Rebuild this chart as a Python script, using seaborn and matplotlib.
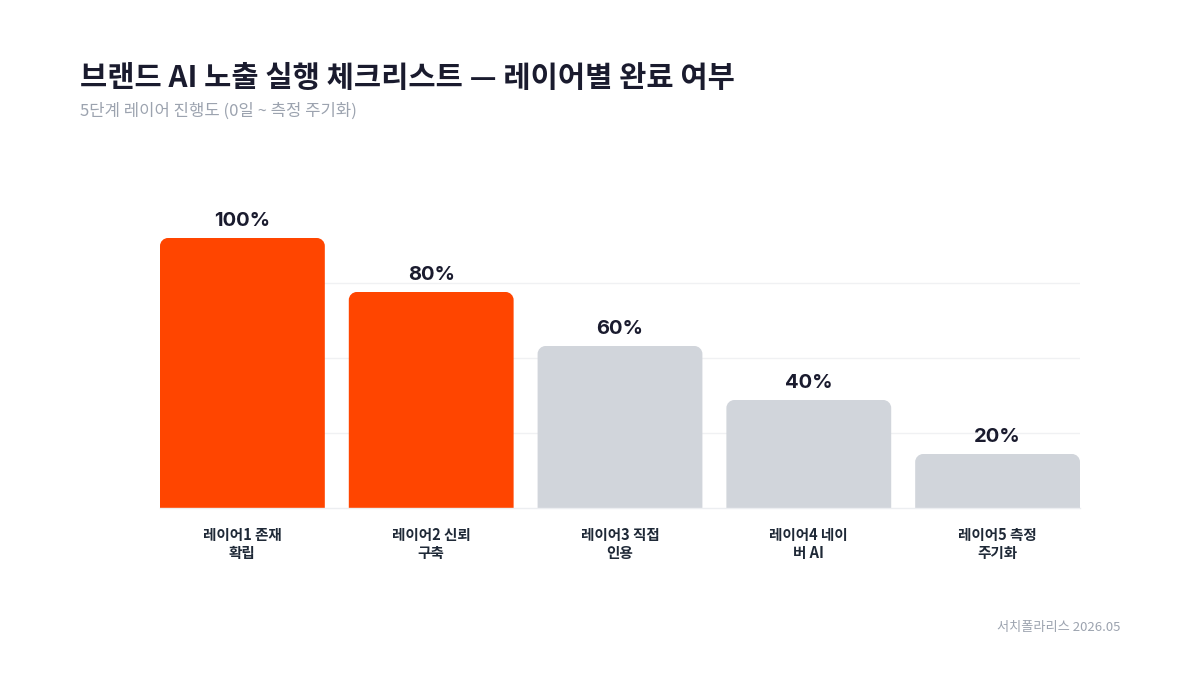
import matplotlib
matplotlib.use("Agg")
import matplotlib.pyplot as plt
import seaborn as sns
import pandas as pd
from matplotlib.path import Path
from matplotlib.patches import PathPatch

categories = ["레이어1 존재\n확립", "레이어2 신뢰\n구축", "레이어3 직접\n인용", "레이어4 네이\n버 AI", "레이어5 측정\n주기화"]
values = [100, 80, 60, 40, 20]
done = [True, True, False, False, False]
value_labels = ["100%", "80%", "60%", "40%", "20%"]

title = "브랜드 AI 노출 실행 체크리스트 — 레이어별 완료 여부"
subtitle = "5단계 레이어 진행도 (0일 ~ 측정 주기화)"
footer = "서치폴라리스 2026.05"

ORANGE = "#FF4500"
GRAY = "#D1D5DB"
DARK = "#1A1B2E"

sns.set_theme(style="white")
plt.rcParams["font.family"] = ["Noto Sans CJK KR", "DejaVu Sans"]

df = pd.DataFrame({"cat": categories, "val": values,
                   "status": ["done" if d else "todo" for d in done]})

fig = plt.figure(figsize=(12, 6.75), dpi=100)
ax = fig.add_axes([160 / 1200, (675 - 508) / 675, 920 / 1200, 300 / 675])

bw = 0.873
sns.barplot(data=df, x="cat", y="val", hue="status",
            palette={"done": ORANGE, "todo": GRAY}, width=bw,
            dodge=False, legend=False, ax=ax, saturation=1)

xlim = (-bw / 2, len(categories) - 1 + bw / 2)
ymax = 100 / 0.9
ax.set_xlim(*xlim)
ax.set_ylim(0, ymax)

# rounded tops only
xunit = (xlim[1] - xlim[0]) / 920
yunit = ymax / 300
rx, ry = 8 * xunit, 8 * yunit
k = 0.5523
bars = list(ax.patches)
for p in bars:
    x, w, h = p.get_x(), p.get_width(), p.get_height()
    c = p.get_facecolor()
    p.remove()
    x1 = x + w
    verts = [
        (x, 0), (x, h - ry),
        (x, h - ry + k * ry), (x + rx - k * rx, h), (x + rx, h),
        (x1 - rx, h),
        (x1 - rx + k * rx, h), (x1, h - ry + k * ry), (x1, h - ry),
        (x1, 0), (x, 0),
    ]
    codes = [Path.MOVETO, Path.LINETO,
             Path.CURVE4, Path.CURVE4, Path.CURVE4,
             Path.LINETO,
             Path.CURVE4, Path.CURVE4, Path.CURVE4,
             Path.LINETO, Path.CLOSEPOLY]
    ax.add_patch(PathPatch(Path(verts, codes), facecolor=c, edgecolor="none", zorder=2))

for i, (v, lab) in enumerate(zip(values, value_labels)):
    ax.text(i, v + 8 * yunit, lab, ha="center", va="bottom", fontsize=14.5,
            fontweight="bold", color=DARK, family=["Inter", "Noto Sans CJK KR"], zorder=3)

ax.set_yticks([ymax * j / 4 for j in range(1, 4)])
ax.yaxis.grid(True, color="#F0F1F3", linewidth=1)
ax.set_axisbelow(True)
ax.tick_params(axis="y", left=False, labelleft=False)
ax.tick_params(axis="x", bottom=False, pad=7.5, labelsize=10.5, labelcolor="#1F2937")
for lbl in ax.get_xticklabels():
    lbl.set_fontweight("bold")
    lbl.set_linespacing(1.2)
ax.set_xlabel("")
ax.set_ylabel("")
for s in ["top", "right", "left"]:
    ax.spines[s].set_visible(False)
ax.spines["bottom"].set_color("#ECEEF1")
ax.spines["bottom"].set_linewidth(1)

fig.text(80 / 1200, 1 - 78 / 675, title, fontsize=21.3, fontweight="bold",
         color=DARK, ha="left", va="center")
fig.text(80 / 1200, 1 - 111 / 675, subtitle, fontsize=12, color="#9CA3AF",
         ha="left", va="center")
fig.text(1120 / 1200, 1 - 627 / 675, footer, fontsize=9.5, color="#9CA3AF",
         ha="right", va="center")

fig.savefig("out.png", dpi=100, facecolor="white")
